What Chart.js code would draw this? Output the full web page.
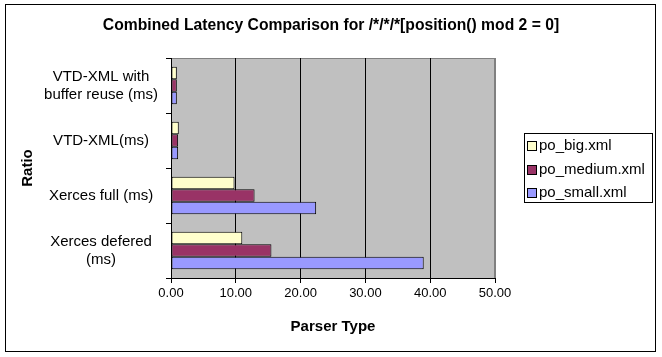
<!DOCTYPE html>
<html>
<head>
<meta charset="utf-8">
<script src="https://cdn.jsdelivr.net/npm/chart.js@4/dist/chart.umd.min.js"></script>
<style>
html,body{margin:0;padding:0;background:#fff;}
#wrap{width:662px;height:357px;position:relative;}
</style>
</head>
<body>
<div id="wrap"><canvas id="c" width="662" height="357"></canvas></div>
<script>
const titleText = "Combined Latency Comparison for /*/*/*[position() mod 2 = 0]";
const categories = [["VTD-XML with", "buffer reuse (ms)"], "VTD-XML(ms)", "Xerces full (ms)", ["Xerces defered", "(ms)"]];
const seriesNames = ["po_big.xml", "po_medium.xml", "po_small.xml"];
const poBig = [0.9, 1.2, 9.8, 11.0];
const poMedium = [0.9, 1.1, 12.9, 15.5];
const poSmall = [0.9, 1.1, 22.4, 39.0];
const seriesColors = ["#FFFFCC", "#993366", "#9999FF"];
const xMax = 50;
const xStep = 10;
const xTitle = "Parser Type";
const yTitle = "Ratio";

const FONT = "'Liberation Sans', Arial, sans-serif";

const decorPlugin = {
  id: 'decor',
  beforeDraw(chart) {
    const {ctx, chartArea: a} = chart;
    ctx.save();
    ctx.fillStyle = '#fff';
    ctx.fillRect(0, 0, chart.width, chart.height);
    ctx.fillStyle = '#C0C0C0';
    ctx.fillRect(a.left, a.top, a.right - a.left, a.bottom - a.top);
    ctx.strokeStyle = '#808080';
    ctx.lineWidth = 1;
    ctx.strokeRect(a.left + 0.5, a.top + 0.5, a.right - a.left - 1, a.bottom - a.top);
    ctx.restore();
  },
  afterDraw(chart) {
    const {ctx} = chart;
    ctx.save();
    // chart title
    ctx.fillStyle = '#000';
    ctx.font = "bold 15.7px " + FONT;
    ctx.textAlign = 'center';
    ctx.textBaseline = 'middle';
    ctx.fillText(titleText, 331, 26);
    // outer border
    ctx.strokeStyle = '#000';
    ctx.lineWidth = 1;
    ctx.strokeRect(5.5, 4.5, 650, 347);
    // legend
    const lx = 524, ly = 133, lw = 128, lh = 69;
    ctx.fillStyle = '#fff';
    ctx.fillRect(lx, ly, lw, lh);
    ctx.strokeRect(lx + 0.5, ly + 0.5, lw, lh);
    ctx.font = "15px " + FONT;
    ctx.textBaseline = 'middle';
    ctx.textAlign = 'left';
    chart.data.datasets.forEach((ds, i) => {
      const cy = ly + 13 + i * 23.5;
      ctx.fillStyle = ds.backgroundColor;
      ctx.fillRect(lx + 4, Math.round(cy) - 4, 8, 8);
      ctx.strokeStyle = '#000';
      ctx.strokeRect(lx + 3.5, Math.round(cy) - 4.5, 9, 9);
      ctx.fillStyle = '#000';
      ctx.fillText(ds.label, lx + 15, cy);
    });
    ctx.restore();
  }
};

new Chart(document.getElementById('c'), {
  type: 'bar',
  data: {
    labels: categories,
    datasets: [
      {label: seriesNames[0], data: poBig, backgroundColor: seriesColors[0]},
      {label: seriesNames[1], data: poMedium, backgroundColor: seriesColors[1]},
      {label: seriesNames[2], data: poSmall, backgroundColor: seriesColors[2]}
    ].map(d => Object.assign(d, {borderColor: '#000', borderWidth: 1, borderSkipped: false, categoryPercentage: 0.68, barPercentage: 1.0}))
  },
  options: {
    indexAxis: 'y',
    responsive: false,
    animation: false,
    devicePixelRatio: 1,
    layout: {padding: {left: 0, right: 167, top: 58, bottom: 0}},
    plugins: {
      legend: {display: false},
      tooltip: {enabled: false},
      title: {display: false}
    },
    scales: {
      x: {
        min: 0, max: xMax,
        ticks: {stepSize: xStep, color: '#000', font: {family: FONT, size: 13}, padding: 3,
          callback: v => Number(v).toFixed(2), maxRotation: 0},
        grid: {color: c => (c.tick && c.tick.value === xMax) ? '#808080' : '#000', tickColor: '#000', tickLength: 5, lineWidth: 1},
        border: {color: '#000', width: 1},
        title: {display: true, text: xTitle, color: '#000', font: {family: FONT, size: 15, weight: 'bold'}, padding: {top: 0, bottom: 21}},
        afterFit(s) { s.height = 79; }
      },
      y: {
        ticks: {color: '#000', font: {family: FONT, size: 15}, padding: 8, crossAlign: 'center', autoSkip: false},
        grid: {display: true, drawOnChartArea: false, drawTicks: true, tickLength: 5, tickColor: '#000', offset: true},
        border: {color: '#000', width: 1},
        title: {display: true, text: yTitle, color: '#000', font: {family: FONT, size: 15, weight: 'bold'}, padding: {top: 19, bottom: 0}},
        afterFit(s) { s.width = 171; }
      }
    }
  },
  plugins: [decorPlugin]
});
</script>
</body>
</html>
